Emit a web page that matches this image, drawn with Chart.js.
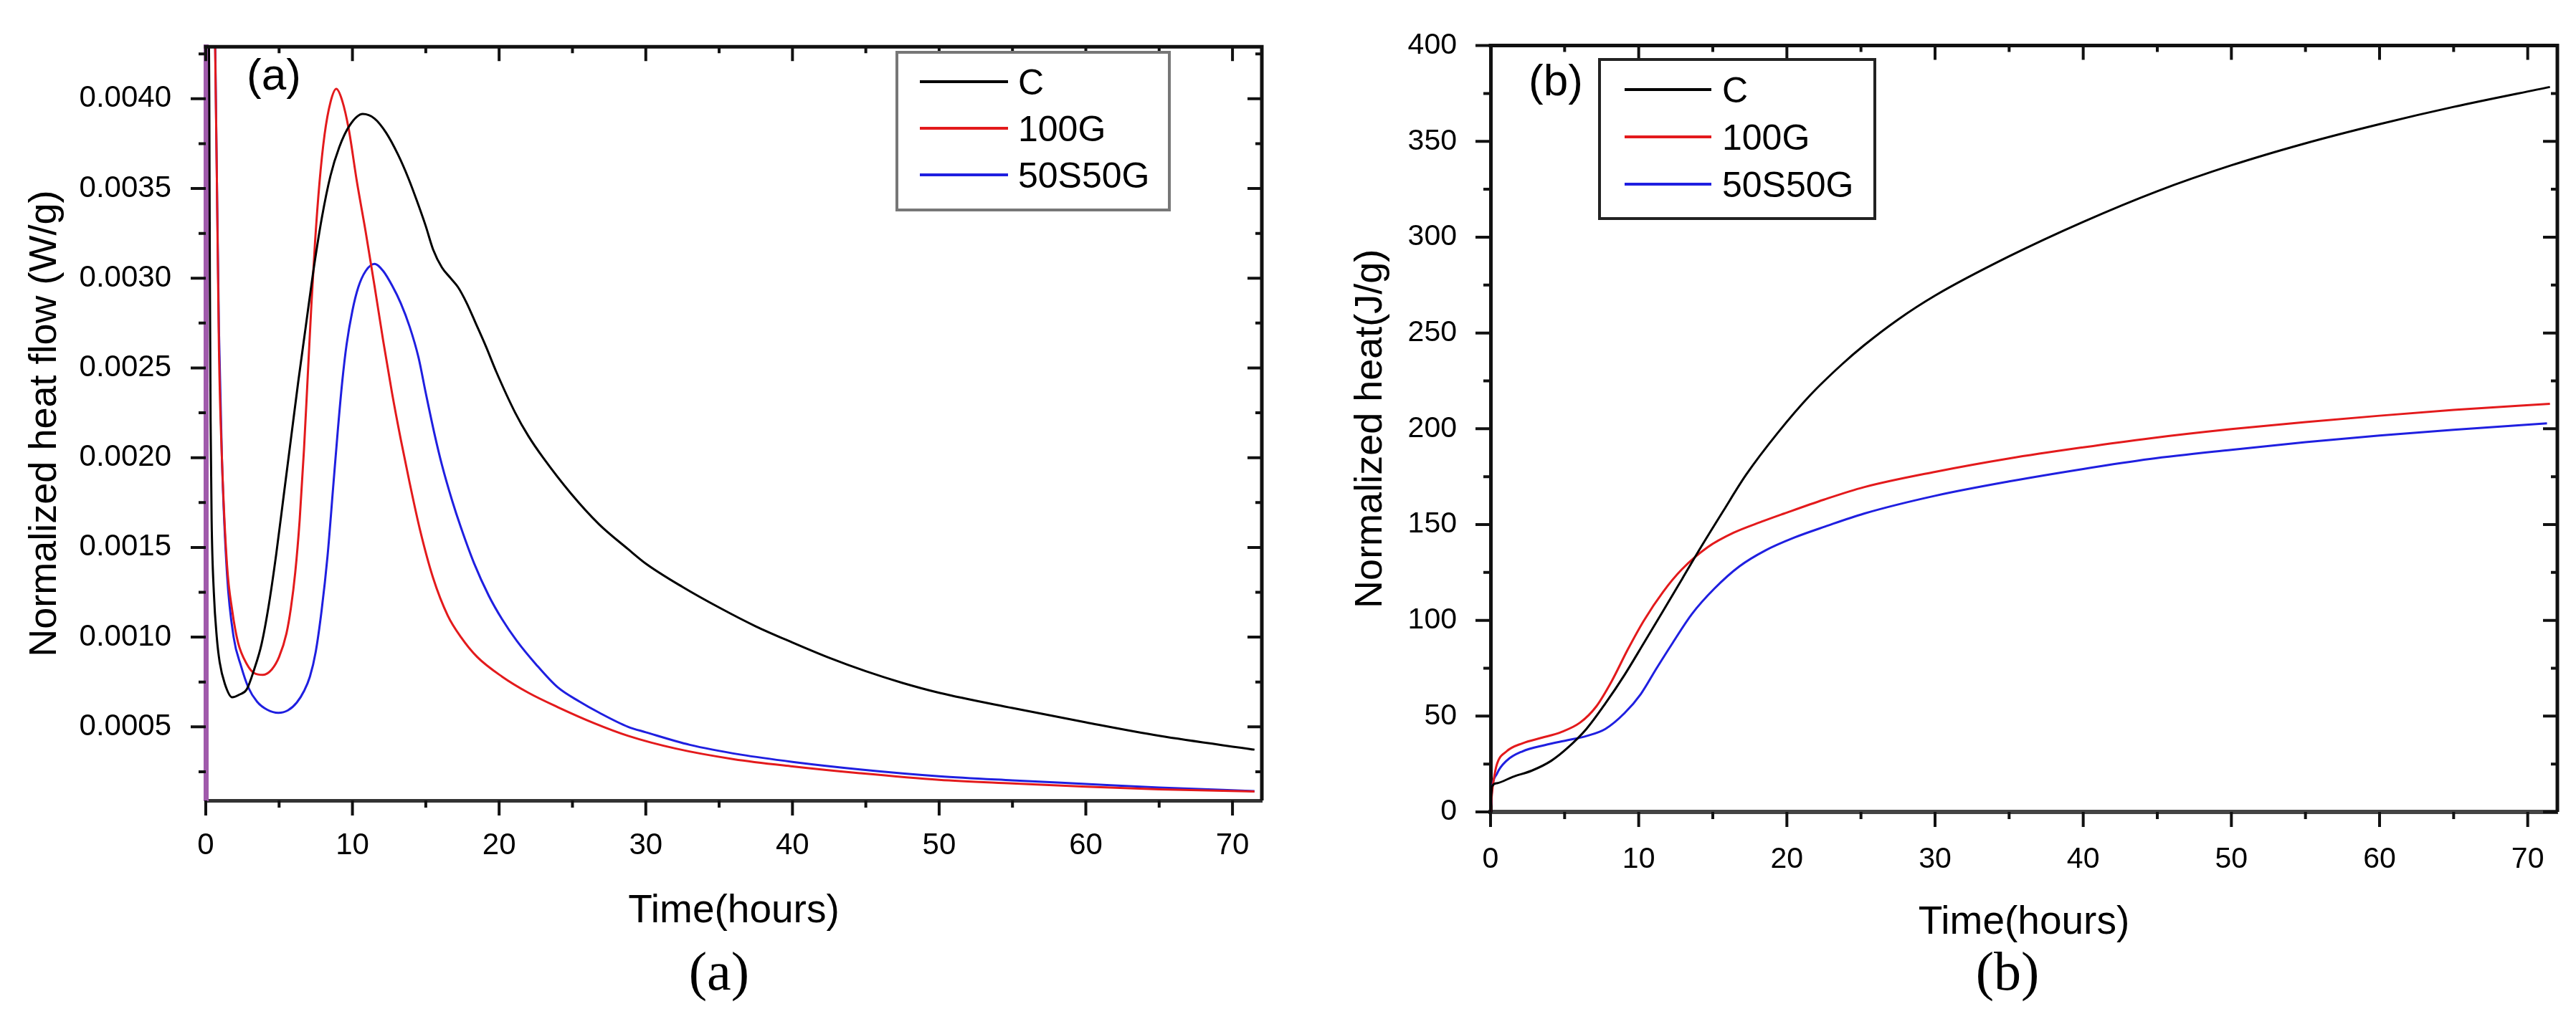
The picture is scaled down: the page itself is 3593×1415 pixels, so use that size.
<!DOCTYPE html>
<html>
<head>
<meta charset="utf-8">
<script src="https://cdn.jsdelivr.net/npm/chart.js@4.4.1/dist/chart.umd.min.js"></script>
<style>
html,body{margin:0;padding:0;background:#fff;width:3593px;height:1415px;overflow:hidden;font-family:'Liberation Sans',Arial,sans-serif;}
canvas{position:absolute;top:0;}
.legend{position:absolute;box-sizing:border-box;background:#fff;}
.legend .ln{position:absolute;height:4px;}
.legend .tx{position:absolute;font-size:50px;line-height:50px;color:#000;white-space:nowrap;}
.plab{position:absolute;font-size:62px;line-height:62px;color:#000;white-space:nowrap;}
.cap{position:absolute;width:200px;text-align:center;font-family:'Liberation Serif','Times New Roman',serif;font-size:76px;line-height:76px;color:#000;}
</style>
</head>
<body>
<canvas id="cA" width="1800" height="1415" style="left:0px"></canvas>
<canvas id="cB" width="1793" height="1415" style="left:1800px"></canvas>
<div class="legend" id="legA" style="left:1249px;top:71px;width:384px;height:224px;border:4px solid #777;"></div>
<div class="legend" id="legB" style="left:2229px;top:81px;width:388px;height:226px;border:4px solid #222;"></div>
<div class="plab" style="left:344px;top:73px;">(a)</div>
<div class="plab" style="left:2132px;top:81px;">(b)</div>
<div class="cap" style="left:903px;top:1317px;">(a)</div>
<div class="cap" style="left:2700px;top:1317px;">(b)</div>
<script>
// ---------- series names ----------
const seriesNames = ['C', '100G', '50S50G'];
const seriesColors = ['#000000', '#e31a1c', '#1f1fe0'];

// ---------- panel (a): normalized heat flow (W/g) ----------
const aTimeC = [0.18,0.24,0.28,0.33,0.4,0.55,0.75,0.95,1.3,1.8,2.3,2.8,3.3,3.8,4.3,4.8,5.3,5.8,6.3,6.8,7.3,7.9,8.5,9.1,9.8,10.7,11.5,12.3,13.1,13.8,14.4,15.0,15.5,16.1,16.7,17.2,17.8,18.4,19.1,19.8,21.1,22.0,23.0,24.9,26.8,28.8,30,32.5,35,37.5,40,42.5,45,47.5,50,55,60,65,71.5];
const aFlowC = [0.0048,0.0040,0.0030,0.0022,0.00165,0.00125,0.0010,0.00086,0.00074,0.000665,0.00068,0.00071,0.00082,0.00096,0.00118,0.00146,0.00178,0.0021,0.00242,0.00272,0.00302,0.00333,0.00357,0.00373,0.00385,0.003915,0.00389,0.00381,0.00369,0.00356,0.00343,0.00329,0.00316,0.00306,0.0030,0.00295,0.00286,0.00275,0.00262,0.00248,0.00225,0.00212,0.0020,0.0018,0.00163,0.00149,0.00141,0.00128,0.001165,0.00106,0.00097,0.000885,0.00081,0.000745,0.00069,0.000605,0.000525,0.00045,0.000373];

const aTimeG = [0.5,0.62,0.75,0.9,1.1,1.45,1.8,2.2,2.8,3.3,3.9,4.5,5.0,5.5,5.8,6.1,6.4,6.7,6.95,7.2,7.45,7.75,8.1,8.5,8.9,9.3,9.75,10.3,10.9,11.5,12.1,12.7,13.3,13.9,14.6,15.5,16.5,17.4,18.5,20.2,22,24,26.5,28.8,32,36,40,44.6,50,55,60,65,71.5];
const aFlowG = [0.0052,0.0044,0.0036,0.0026,0.0020,0.0014,0.00115,0.00097,0.00085,0.0008,0.00079,0.00082,0.00089,0.00102,0.00116,0.00136,0.00165,0.00205,0.00245,0.00285,0.0032,0.00353,0.0038,0.00398,0.004055,0.00399,0.00383,0.00354,0.00326,0.00296,0.00265,0.00236,0.0021,0.00186,0.0016,0.00133,0.00112,0.001,0.00089,0.00078,0.00069,0.00061,0.00052,0.00045,0.00038,0.00032,0.00028,0.000242,0.000205,0.000185,0.000167,0.000152,0.00014];

const aTimeSG = [0.6,0.75,0.9,1.1,1.45,1.9,2.4,2.9,3.5,4.2,4.95,5.6,6.2,6.7,7.1,7.5,7.9,8.3,8.7,9.0,9.3,9.6,10.0,10.4,10.9,11.5,12.1,12.7,13.3,13.9,14.5,15.0,15.6,16.1,16.8,17.4,18.3,19.3,20.2,21.2,22.5,24.0,25.5,26.8,28.8,30,33,36.5,40,44.6,50,55,60,65,71.5];
const aFlowSG = [0.0046,0.0036,0.0027,0.0020,0.00135,0.0010,0.00084,0.00072,0.00064,0.000595,0.000578,0.000592,0.000635,0.0007,0.00078,0.00092,0.00115,0.00145,0.00185,0.00215,0.00242,0.00263,0.00282,0.00295,0.00304,0.00308,0.00304,0.00296,0.00286,0.00273,0.00256,0.00236,0.00213,0.00196,0.00176,0.00161,0.00141,0.00123,0.0011,0.00098,0.00085,0.00072,0.00064,0.00058,0.0005,0.00047,0.0004,0.000345,0.000305,0.000263,0.000225,0.000202,0.000182,0.000162,0.000142];

const aXTicks = [0,10,20,30,40,50,60,70];
const aYTicks = [0.0005,0.0010,0.0015,0.0020,0.0025,0.0030,0.0035,0.0040];

// ---------- panel (b): normalized heat (J/g) ----------
const bTimeC = [0,0.05,0.1,0.43,1.5,2.8,4.1,5.17,6.47,7.75,9.05,10.35,11.64,12.93,14.2,15.7,17.25,19.4,21.57,23.7,25.2,27.5,30,35,40,45,50,55,60,65,71.5];
const bHeatC = [0,8,13.3,15,18.3,21.6,26.7,33.2,43.3,56.6,71.6,88.2,104.8,121.6,138.2,157,176,198,217.5,233.5,243.5,257,269.5,290,308,324,337.5,349,359,368,378.4];

const bTimeG = [0,0.1,0.21,0.43,1.08,2.15,3.45,4.74,6.04,7.12,8.18,9.27,10.35,11.64,12.9,14.66,16.4,18.3,19.8,22.5,25.2,30,35,40,44.5,50,55,60,65,71.5];
const bHeatG = [0,10,16.6,24.9,31.6,35.8,38.7,41.6,46.6,54.9,68.3,84.9,99.9,114.8,126.5,138.2,145.7,151.5,155.7,163,169.5,177.5,184.5,190.3,195,199.8,203.5,206.8,209.8,213];

const bTimeSG = [0,0.1,0.43,1.08,2.15,3.67,5.17,6.47,7.75,9.05,10.14,11.2,12.29,13.58,15.1,16.8,18.55,20.5,22.6,25.2,30,35,40,44.5,50,55,60,65,71.3];
const bHeatSG = [0,11.7,19.9,26.7,31.6,34.9,37.4,39.6,43.3,51.6,61.5,74.9,88.2,103.2,116.5,128.2,136.5,143.2,149,155.7,165,172.5,179,184.2,189,193,196.5,199.5,202.8];

const bXTicks = [0,10,20,30,40,50,60,70];
const bYTicks = [0,50,100,150,200,250,300,350,400];

// ---------- helpers ----------
const FONT = "'Liberation Sans', Arial, sans-serif";
Chart.defaults.font.family = FONT;
Chart.defaults.color = '#000';

function pts(xs, ys){ return xs.map((x,i)=>({x:x, y:ys[i]})); }

const frameTicks = {
  id: 'frameTicks',
  afterDatasetsDraw(chart, args, o) {
    const {ctx, chartArea:{left,right,top,bottom}} = chart;
    const xs = chart.scales.x, ys = chart.scales.y;
    ctx.save();
    ctx.strokeStyle = o.color;
    ctx.lineCap = 'butt';
    ctx.lineWidth = o.frameWidth;
    ctx.beginPath();
    ctx.moveTo(left - o.frameWidth/2, top);
    ctx.lineTo(right, top);
    ctx.lineTo(right, bottom);
    ctx.stroke();
    ctx.lineWidth = o.tickWidth;
    ctx.beginPath();
    for (let k = 0; k * o.xStep <= xs.max + 1e-9; k++) {
      const v = k * o.xStep; if (v < xs.min) continue;
      const px = xs.getPixelForValue(v);
      const major = k % 2 === 0;
      const lo = major ? o.majorOut : o.minorOut;
      const li = major ? o.majorIn : o.minorIn;
      ctx.moveTo(px, bottom); ctx.lineTo(px, bottom + lo);
      ctx.moveTo(px, top); ctx.lineTo(px, top + li);
    }
    for (let k = 0; k * o.yStep <= ys.max + 1e-12; k++) {
      const v = k * o.yStep; if (v < ys.min - 1e-12) continue;
      const py = ys.getPixelForValue(v);
      const major = k % 2 === 0;
      const lo = major ? o.majorOut : o.minorOut;
      const li = major ? o.majorIn : o.minorIn;
      ctx.moveTo(left, py); ctx.lineTo(left - lo, py);
      ctx.moveTo(right, py); ctx.lineTo(right - li, py);
    }
    ctx.stroke();
    ctx.restore();
  }
};

const htmlLegend = {
  id: 'htmlLegend',
  afterUpdate(chart, args, o) {
    const box = document.getElementById(o.containerID);
    if (!box) return;
    box.innerHTML = '';
    chart.data.datasets.forEach((ds, i) => {
      const ln = document.createElement('div');
      ln.className = 'ln';
      ln.style.left = o.lineLeft + 'px';
      ln.style.width = o.lineLen + 'px';
      ln.style.top = (o.firstY + i * o.gap - 2) + 'px';
      ln.style.background = ds.borderColor;
      const tx = document.createElement('div');
      tx.className = 'tx';
      tx.textContent = ds.label;
      tx.style.left = o.textLeft + 'px';
      tx.style.top = (o.firstY + i * o.gap - 24.4) + 'px';
      box.appendChild(ln);
      box.appendChild(tx);
    });
  }
};

function makeDatasets(sets) {
  return sets.map((d, i) => ({
    label: seriesNames[i],
    data: d,
    borderColor: seriesColors[i],
    backgroundColor: seriesColors[i],
    borderWidth: 3,
    pointRadius: 0,
    fill: false,
    tension: 0.4,
    cubicInterpolationMode: 'monotone'
  }));
}

function makeChart(id, cfg) {
  return new Chart(document.getElementById(id), {
    type: 'line',
    data: { datasets: makeDatasets(cfg.sets) },
    options: {
      responsive: false,
      animation: false,
      devicePixelRatio: 1,
      layout: { padding: { top: cfg.padTop, right: cfg.padRight, left: 0, bottom: 0 } },
      plugins: {
        legend: { display: false },
        tooltip: { enabled: false },
        htmlLegend: cfg.legend,
        frameTicks: {
          color: '#111', frameWidth: 5, tickWidth: 4,
          majorOut: 21, minorOut: 10, majorIn: 20, minorIn: 9,
          xStep: 5, yStep: cfg.yStep
        }
      },
      scales: {
        x: {
          type: 'linear', position: 'bottom', min: 0, max: 72,
          afterFit: s => { s.height = cfg.xHeight; },
          afterBuildTicks: s => { s.ticks = cfg.xTicks.map(v => ({ value: v })); },
          grid: { display: false },
          border: { display: true, color: cfg.bottomColor, width: cfg.bottomWidth },
          ticks: { font: { size: cfg.xTickSize }, color: '#000', padding: cfg.xTickPad, maxRotation: 0, callback: v => String(v) },
          title: { display: true, text: 'Time(hours)', font: { size: 55 }, color: '#000', padding: { top: 0, bottom: cfg.xTitlePad } }
        },
        y: {
          type: 'linear', position: 'left', min: cfg.yMin, max: cfg.yMax,
          afterFit: s => { s.width = cfg.yWidth; },
          afterBuildTicks: s => { s.ticks = cfg.yTicks.map(v => ({ value: v })); },
          grid: { display: false },
          border: { display: true, color: cfg.leftColor, width: cfg.leftWidth },
          ticks: { font: { size: cfg.yTickSize }, color: '#000', padding: cfg.yTickPad, callback: cfg.yFmt },
          title: { display: true, text: cfg.yTitle, font: { size: 54 }, color: '#000', padding: { top: cfg.yTitlePad, bottom: 0 } }
        }
      }
    },
    plugins: [frameTicks, htmlLegend]
  });
}

makeChart('cA', {
  sets: [pts(aTimeC, aFlowC), pts(aTimeG, aFlowG), pts(aTimeSG, aFlowSG)],
  padTop: 29, padRight: 40, xHeight: 298, yWidth: 287,
  yMin: 0.00009, yMax: 0.00429, yStep: 0.00025,
  xTicks: aXTicks, yTicks: aYTicks,
  xTickSize: 42, yTickSize: 42, xTickPad: 30, yTickPad: 40,
  xTitlePad: 110, yTitlePad: 31,
  yTitle: 'Normalized heat flow (W/g)',
  yFmt: v => Number(v).toFixed(4),
  bottomColor: '#333', bottomWidth: 5, leftColor: '#a05aab', leftWidth: 7,
  legend: { containerID: 'legA', lineLeft: 30, lineLen: 123, textLeft: 167, firstY: 39, gap: 65 }
});

makeChart('cB', {
  sets: [pts(bTimeC, bHeatC), pts(bTimeG, bHeatG), pts(bTimeSG, bHeatSG)],
  padTop: 38, padRight: 26, xHeight: 282, yWidth: 279,
  yMin: 0, yMax: 400, yStep: 25,
  xTicks: bXTicks, yTicks: bYTicks,
  xTickSize: 41, yTickSize: 41, xTickPad: 34, yTickPad: 39,
  xTitlePad: 94, yTitlePad: 80,
  yTitle: 'Normalized heat(J/g)',
  yFmt: v => String(v),
  bottomColor: '#444', bottomWidth: 6, leftColor: '#111', leftWidth: 5,
  legend: { containerID: 'legB', lineLeft: 33, lineLen: 121, textLeft: 169, firstY: 40, gap: 66 }
});
</script>
</body>
</html>
